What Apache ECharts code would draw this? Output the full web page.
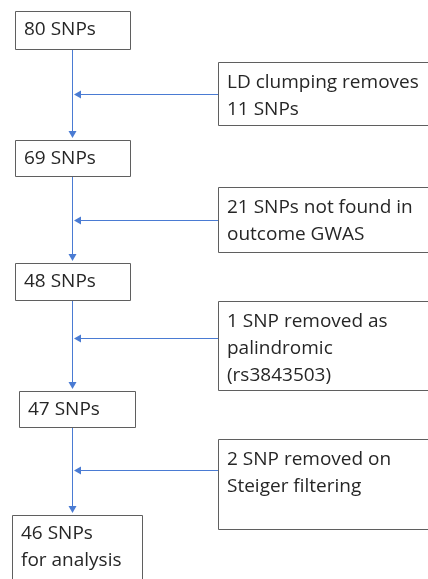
<!DOCTYPE html>
<html>
<head>
<meta charset="utf-8">
<script src="https://cdn.jsdelivr.net/npm/echarts@6/dist/echarts.min.js"></script>
<style>
  html, body { margin: 0; padding: 0; background: #fff; }
  #chart { width: 428px; height: 579px; }
</style>
</head>
<body>
<div id="chart"></div>
<script>
// flow steps (text only)
const mainLabels = ["80 SNPs", "69 SNPs", "48 SNPs", "47 SNPs", "46 SNPs\nfor analysis"];
const filterLabels = [
  "LD clumping removes\n11 SNPs",
  "21 SNPs not found in\noutcome GWAS",
  "1 SNP removed as\npalindromic\n(rs3843503)",
  "2 SNP removed on\nSteiger filtering"
];

// layout, in page units: [left, top, right, bottom]
const mainBoxes = [
  [15, 11, 130, 49],
  [15, 140, 130, 176],
  [15, 263, 130, 300],
  [19, 391, 135, 427],
  [12, 515, 142, 600]
];
const filterBoxes = [
  [218, 62, 440, 125],
  [218, 187, 440, 252],
  [218, 301, 440, 390],
  [218, 439, 440, 529]
];
const arrowY = [94, 220, 338, 470];
const spineX = 72;

const blue = "#4a7bd3";
const font = "'Open Sans', sans-serif";

const chart = echarts.init(document.getElementById("chart"));

function boxItem(params, api, box, label, textTop) {
  const p0 = api.coord([box[0], box[1]]);
  const p1 = api.coord([box[2], box[3]]);
  return {
    type: "group",
    children: [
      {
        type: "rect",
        shape: { x: p0[0] + 0.5, y: p0[1] + 0.5, width: p1[0] - p0[0], height: p1[1] - p0[1] },
        style: { fill: "#fff", stroke: "#5f5f5f", lineWidth: 1 }
      },
      {
        type: "text",
        x: p0[0] + 9,
        y: p0[1] + textTop,
        style: {
          text: label,
          fill: "#262626",
          font: "19px " + font,
          lineHeight: 27,
          verticalAlign: "top"
        }
      }
    ]
  };
}

function arrowHead(tip, dir) {
  // dir: 'down' or 'left'
  const s = 4;
  const pts = dir === "down"
    ? [[tip[0] - s, tip[1] - 7], [tip[0] + s, tip[1] - 7], [tip[0], tip[1]]]
    : [[tip[0] + 7, tip[1] - s], [tip[0] + 7, tip[1] + s], [tip[0], tip[1]]];
  return { type: "polygon", shape: { points: pts }, style: { fill: blue } };
}

chart.setOption({
  animation: false,
  grid: { left: 0, right: 0, top: 0, bottom: 0 },
  xAxis: { type: "value", min: 0, max: 428, show: false },
  yAxis: { type: "value", min: 0, max: 579, inverse: true, show: false },
  series: [
    {
      // vertical connectors between main boxes
      type: "custom",
      data: mainBoxes.slice(1).map((b, i) => [i]),
      renderItem: (params, api) => {
        const i = api.value(0);
        const from = api.coord([spineX, mainBoxes[i][3]]);
        const to = api.coord([spineX, mainBoxes[i + 1][1]]);
        return {
          type: "group",
          children: [
            {
              type: "line",
              shape: { x1: from[0] + 0.5, y1: from[1], x2: to[0] + 0.5, y2: to[1] - 4 },
              style: { stroke: blue, lineWidth: 1 }
            },
            arrowHead([to[0] + 0.5, to[1] - 2], "down")
          ]
        };
      }
    },
    {
      // side arrows from filter boxes
      type: "custom",
      data: arrowY.map((y, i) => [i]),
      renderItem: (params, api) => {
        const i = api.value(0);
        const from = api.coord([filterBoxes[i][0], arrowY[i]]);
        const to = api.coord([spineX, arrowY[i]]);
        return {
          type: "group",
          children: [
            {
              type: "line",
              shape: { x1: from[0], y1: from[1] + 0.5, x2: to[0] + 4, y2: to[1] + 0.5 },
              style: { stroke: blue, lineWidth: 1 }
            },
            arrowHead([to[0] + 2, to[1] + 0.5], "left")
          ]
        };
      }
    },
    {
      type: "custom",
      data: mainLabels.map((l, i) => [i]),
      renderItem: (params, api) => {
        const i = api.value(0);
        return boxItem(params, api, mainBoxes[i], mainLabels[i], 5);
      }
    },
    {
      type: "custom",
      data: filterLabels.map((l, i) => [i]),
      renderItem: (params, api) => {
        const i = api.value(0);
        return boxItem(params, api, filterBoxes[i], filterLabels[i], 7);
      }
    }
  ]
});
</script>
</body>
</html>
